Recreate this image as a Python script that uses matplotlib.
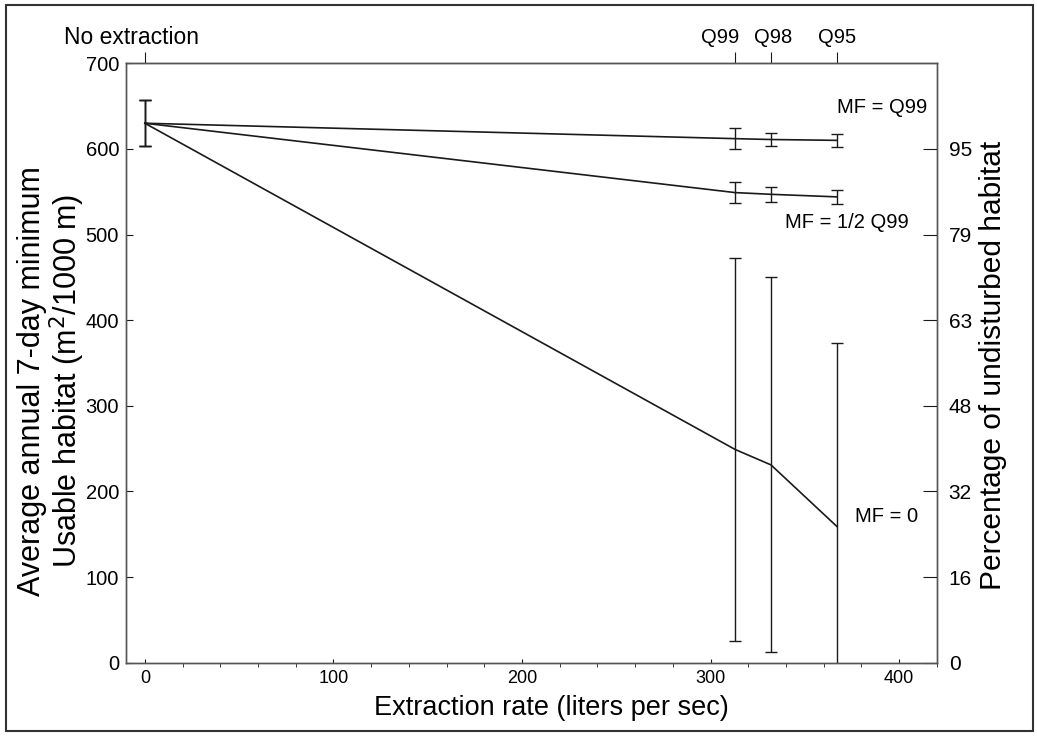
import numpy as np
import matplotlib
matplotlib.use("Agg")
import matplotlib.pyplot as plt
from matplotlib.patches import Rectangle
from matplotlib.ticker import MultipleLocator

plt.rcParams['font.family'] = ['Liberation Sans', 'DejaVu Sans']

# extraction rates (l/s): no extraction, Q99, Q98, Q95
extraction = [0, 313, 332, 367]
top_labels = ["No extraction", "Q99", "Q98", "Q95"]
top_label_x = [-7, 305, 333, 367]
top_label_size = [16.5, 14.5, 14.5, 14.5]

# usable habitat (m2/1000 m) and error bar half widths
mf_q99 = [630, 612, 611, 610]
mf_q99_err = [27, 12, 8, 8]
mf_half_q99 = [630, 549, 547, 544]
mf_half_q99_err = [27, 12, 9, 8]
mf_zero = [630, 249, 231, 159]
mf_zero_err = [27, 224, 219, 214]

# right axis: percentage of undisturbed habitat
pct_ticks = [0, 100, 200, 300, 400, 500, 600]
pct_labels = ["0", "16", "32", "48", "63", "79", "95"]

ink = "#1a1a1a"

fig = plt.figure(figsize=(10.37, 7.36), dpi=100)
ax = fig.add_axes([0.1215, 0.0996, 0.782, 0.8144])

for vals, errs in [(mf_q99, mf_q99_err), (mf_half_q99, mf_half_q99_err), (mf_zero, mf_zero_err)]:
    ax.errorbar(extraction, vals, yerr=errs, color=ink, lw=1.2, elinewidth=1.0,
                capsize=4, capthick=1.0)

ax.set_xlim(-10, 420)
ax.set_ylim(0, 700)
ax.set_xticks([0, 100, 200, 300, 400])
ax.xaxis.set_minor_locator(MultipleLocator(20))
ax.set_yticks(range(0, 701, 100))
ax.tick_params(axis='x', which='major', direction='in', length=3, labelsize=13, pad=5, color=ink)
ax.tick_params(axis='x', which='minor', direction='out', length=3, color=ink)
ax.tick_params(axis='y', direction='in', length=5, labelsize=14.5, pad=5, color=ink)
for s in ax.spines.values():
    s.set_color("#555555")
    s.set_linewidth(1.0)

ax2 = ax.twinx()
ax2.set_ylim(0, 700)
ax2.set_yticks(pct_ticks)
ax2.set_yticklabels(pct_labels)
ax2.tick_params(axis='y', direction='in', length=10, labelsize=15, pad=8.5, color=ink)
for s in ax2.spines.values():
    s.set_color("#555555")
    s.set_linewidth(1.0)

top = ax.secondary_xaxis('top')
top.set_xticks(extraction)
top.set_xticklabels([])
top.tick_params(axis='x', direction='out', length=8, color=ink)
top.spines['top'].set_color("#555555")

xt = ax.get_xaxis_transform()
for lx, lab, fs in zip(top_label_x, top_labels, top_label_size):
    ax.text(lx, 1.043, lab, transform=xt, ha='center', va='center', fontsize=fs)

ax.text(415, 648, "MF = Q99", ha='right', va='center', fontsize=14.5)
ax.text(405, 514, "MF = 1/2 Q99", ha='right', va='center', fontsize=14.5)
ax.text(410, 171, "MF = 0", ha='right', va='center', fontsize=14.5)

fig.text(0.532, 0.038, "Extraction rate (liters per sec)", ha='center', va='center', fontsize=19.5)
fig.text(0.050, 0.482, "Average annual 7-day minimum\nUsable habitat (m$^2$/1000 m)",
         rotation=90, ha='center', va='center', multialignment='center',
         fontsize=22, linespacing=1.0)
fig.text(0.958, 0.504, "Percentage of undisturbed habitat", rotation=90,
         ha='center', va='center', fontsize=21.5)

fig.patches.append(Rectangle((0.006, 0.007), 0.990, 0.986, transform=fig.transFigure,
                             fill=False, edgecolor="#333333", lw=1.5))

fig.savefig("out.png", dpi=100)
